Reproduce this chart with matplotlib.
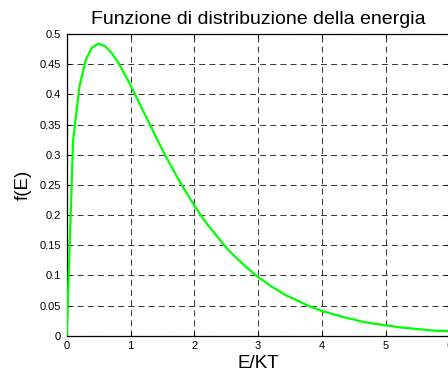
import matplotlib
matplotlib.use("Agg")
import matplotlib.pyplot as plt

# Energy samples (E/KT) and the distribution values f(E)
energy = [0.0, 0.1, 0.2, 0.3, 0.4, 0.5, 0.6, 0.7, 0.8, 0.9,
          1.0, 1.1, 1.2, 1.3, 1.4, 1.5, 1.6, 1.7, 1.8, 1.9,
          2.0, 2.1, 2.2, 2.3, 2.4, 2.5, 2.6, 2.7, 2.8, 2.9,
          3.0, 3.1, 3.2, 3.3, 3.4, 3.5, 3.6, 3.7, 3.8, 3.9,
          4.0, 4.1, 4.2, 4.3, 4.4, 4.5, 4.6, 4.7, 4.8, 4.9,
          5.0, 5.1, 5.2, 5.3, 5.4, 5.5, 5.6, 5.7, 5.8, 5.9, 6.0]
f_e = [0.000, 0.323, 0.413, 0.458, 0.478, 0.484, 0.480, 0.469, 0.454, 0.435,
       0.415, 0.394, 0.372, 0.351, 0.329, 0.308, 0.288, 0.269, 0.250, 0.233,
       0.216, 0.200, 0.185, 0.172, 0.159, 0.146, 0.135, 0.125, 0.115, 0.106,
       0.097, 0.090, 0.082, 0.076, 0.069, 0.064, 0.059, 0.054, 0.049, 0.045,
       0.041, 0.038, 0.035, 0.032, 0.029, 0.027, 0.024, 0.022, 0.020, 0.019,
       0.017, 0.016, 0.014, 0.013, 0.012, 0.011, 0.010, 0.009, 0.008, 0.008, 0.007]

xticks = [0, 1, 2, 3, 4, 5, 6]
yticks = [0, 0.05, 0.1, 0.15, 0.2, 0.25, 0.3, 0.35, 0.4, 0.45, 0.5]
ytick_labels = ["0", "0.05", "0.1", "0.15", "0.2", "0.25", "0.3", "0.35", "0.4", "0.45", "0.5"]

plt.rcParams["font.family"] = ["Liberation Sans", "DejaVu Sans"]
plt.rcParams["lines.scale_dashes"] = False

fig = plt.figure(figsize=(4.48, 3.72), dpi=100)
ax = fig.add_axes([0.1489, 0.0976, 0.8544, 0.811])

ax.plot(energy, f_e, color="#00ff00", lw=1.6, zorder=3)

ax.set_xlim(0, 6)
ax.set_ylim(0, 0.5)
ax.set_xticks(xticks)
ax.set_yticks(yticks)
ax.set_yticklabels(ytick_labels)

ax.grid(True, color="#3a3a3a", lw=0.75, linestyle=(0, (4.3, 3.0)))
ax.tick_params(direction="in", length=3, width=0.75, top=True, right=True,
               labelsize=8, colors="black")
ax.tick_params(axis="y", pad=4)
ax.tick_params(axis="x", pad=3.5)
for s in ax.spines.values():
    s.set_linewidth(0.9)

ax.set_title("Funzione di distribuzione della energia", fontsize=14, pad=7)
ax.set_xlabel("E/KT", fontsize=13.5, labelpad=3)
ax.set_ylabel("f(E)", fontsize=13.5, labelpad=6)

fig.savefig("out.png", dpi=100)
